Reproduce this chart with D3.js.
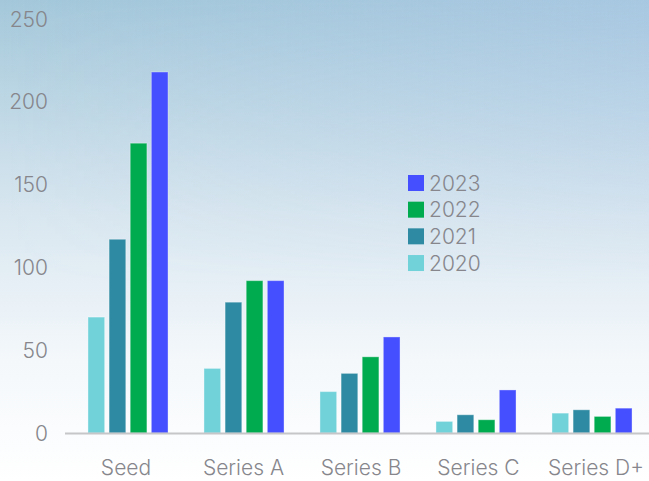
<!DOCTYPE html>
<html>
  <head>
    <script src="https://d3js.org/d3.v7.min.js" charset="utf-8"></script>
    <style>
      html, body { margin: 0; padding: 0; background: #fff; }
      svg { display: block; }
      .tick-label { font-family: Inter, "Noto Sans", sans-serif; font-weight: 300; font-size: 21px; fill: #86868c; }
    </style>
  </head>
  <body>
    <svg id="chart"></svg>
    <script>
      const categories = ["Seed", "Series A", "Series B", "Series C", "Series D+"];
      const years = ["2020", "2021", "2022", "2023"];
      const values2020 = [70, 39, 25, 7, 12];
      const values2021 = [117, 79, 36, 11, 14];
      const values2022 = [175, 92, 46, 8, 10];
      const values2023 = [218, 92, 58, 26, 15];
      const yTicks = [0, 50, 100, 150, 200, 250];
      const colors = { "2020": "#72d2da", "2021": "#2e8aa2", "2022": "#00aa4f", "2023": "#454fff" };

      const W = 649, H = 481;
      const seriesByYear = { "2020": values2020, "2021": values2021, "2022": values2022, "2023": values2023 };

      const svg = d3.select("#chart").attr("width", W).attr("height", H);

      // background gradient
      const defs = svg.append("defs");
      const bg = defs.append("linearGradient").attr("id", "bg")
        .attr("x1", 0).attr("y1", 0).attr("x2", 0).attr("y2", 1);
      bg.append("stop").attr("offset", "0%").attr("stop-color", "#a4c8da");
      bg.append("stop").attr("offset", "45%").attr("stop-color", "#d9e7f0");
      bg.append("stop").attr("offset", "75%").attr("stop-color", "#f4f8fb");
      bg.append("stop").attr("offset", "100%").attr("stop-color", "#ffffff");
      const tint = defs.append("linearGradient").attr("id", "tint")
        .attr("x1", 0).attr("y1", 0).attr("x2", 1).attr("y2", 0);
      tint.append("stop").attr("offset", "0%").attr("stop-color", "#b0c8f0").attr("stop-opacity", 0);
      tint.append("stop").attr("offset", "100%").attr("stop-color", "#b0c8f0").attr("stop-opacity", 0.35);
      const tintMask = defs.append("linearGradient").attr("id", "tintfade")
        .attr("x1", 0).attr("y1", 0).attr("x2", 0).attr("y2", 1);
      tintMask.append("stop").attr("offset", "0%").attr("stop-color", "#fff");
      tintMask.append("stop").attr("offset", "60%").attr("stop-color", "#000");
      defs.append("mask").attr("id", "m").append("rect")
        .attr("width", W).attr("height", H).attr("fill", "url(#tintfade)");

      svg.append("rect").attr("width", W).attr("height", H).attr("fill", "url(#bg)");
      svg.append("rect").attr("width", W).attr("height", H).attr("fill", "url(#tint)").attr("mask", "url(#m)");

      const x0 = d3.scaleBand().domain(categories).range([70, 650])
        .paddingInner(0.31).paddingOuter(0.155);
      const x1 = d3.scaleBand().domain(years).range([0, x0.bandwidth()]).paddingInner(0.21);
      const y = d3.scaleLinear().domain([0, 250]).range([433, 19]);

      // y tick labels
      svg.append("g").selectAll("text").data(yTicks).join("text")
        .attr("class", "tick-label")
        .attr("x", 48)
        .attr("y", d => y(d))
        .attr("dy", "0.36em")
        .attr("text-anchor", "end")
        .text(d => d);

      // bars
      const groups = svg.append("g").selectAll("g").data(categories).join("g")
        .attr("transform", d => `translate(${x0(d)},0)`);
      groups.selectAll("rect")
        .data((c, i) => years.map(yr => ({ year: yr, value: seriesByYear[yr][i] })))
        .join("rect")
        .attr("x", d => x1(d.year))
        .attr("y", d => y(d.value))
        .attr("width", x1.bandwidth())
        .attr("height", d => y(0) - y(d.value))
        .attr("fill", d => colors[d.year])
        .attr("stroke", "#ffffff")
        .attr("stroke-opacity", 0.35)
        .attr("stroke-width", 1);

      // baseline
      svg.append("line")
        .attr("x1", 65).attr("x2", W)
        .attr("y1", y(0) + 0.5).attr("y2", y(0) + 0.5)
        .attr("stroke", "#c6c6c8").attr("stroke-width", 2);

      // x labels
      svg.append("g").selectAll("text").data(categories).join("text")
        .attr("class", "tick-label")
        .attr("x", (d, i) => x0(d) + x0.bandwidth() / 2 - 2 + i * 1.5)
        .attr("y", 475)
        .attr("text-anchor", "middle")
        .text(d => d);

      // legend
      const legendYears = years.slice().reverse();
      const legend = svg.append("g").attr("transform", "translate(408,175)");
      const rows = legend.selectAll("g").data(legendYears).join("g")
        .attr("transform", (d, i) => `translate(0,${i * 26.67})`);
      rows.append("rect").attr("width", 16).attr("height", 16)
        .attr("fill", d => colors[d]);
      rows.append("text").attr("class", "tick-label")
        .attr("x", 21).attr("y", 8).attr("dy", "0.36em")
        .text(d => d);
    </script>
  </body>
</html>
